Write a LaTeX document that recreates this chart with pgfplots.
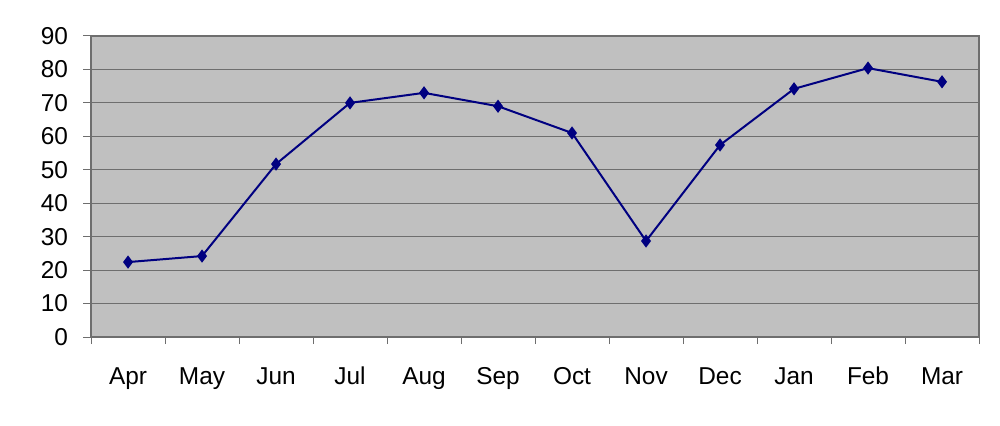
\documentclass[border=0pt]{standalone}
\usepackage{pgfplots}
\pgfplotsset{compat=1.18}
\usepackage{fontspec}
\setmainfont{Liberation Sans}
\definecolor{bg}{HTML}{C0C0C0}
\definecolor{grd}{HTML}{6E6E6E}
\definecolor{navy}{HTML}{000080}
\begin{document}
\begin{tikzpicture}
\begin{axis}[
  scale only axis,
  width=444pt, height=150.5pt,
  xmin=-0.5, xmax=11.5, ymin=0, ymax=90,
  axis background/.style={fill=bg},
  axis line style={draw=grd, line width=0.6pt},
  ytick={0,10,...,90},
  ymajorgrids, grid style={draw=grd, line width=0.5pt},
  xtick={0,...,11},
  xticklabels={Apr,May,Jun,Jul,Aug,Sep,Oct,Nov,Dec,Jan,Feb,Mar},
  major x tick style={draw=none},
  minor xtick={-0.5,0.5,...,11.5},
  minor x tick style={draw=grd, line width=0.5pt},
  tick align=outside,
  major tick length=4pt, minor tick length=3.5pt,
  ytick style={draw=grd, line width=0.5pt},
  xtick pos=bottom, ytick pos=left,
  tick label style={font=\fontsize{12.2}{14}\selectfont},
  /pgf/number format/assume math mode=true,
  xticklabel style={yshift=-8pt, text height=1.6ex, text depth=0.3ex},
  yticklabel style={xshift=-4pt},
  clip=false,
]
\path (axis description cs:-0.1025,-0.2924) rectangle (axis description cs:1.0236,1.1196);
\addplot[navy, line width=1pt, mark=diamond*, mark size=2.5pt, mark options={fill=navy}]
  coordinates {(0,22.4)(1,24.2)(2,51.7)(3,70)(4,73)(5,69)(6,61)(7,28.7)(8,57.4)(9,74.2)(10,80.4)(11,76.3)};
\end{axis}
\end{tikzpicture}
\end{document}
